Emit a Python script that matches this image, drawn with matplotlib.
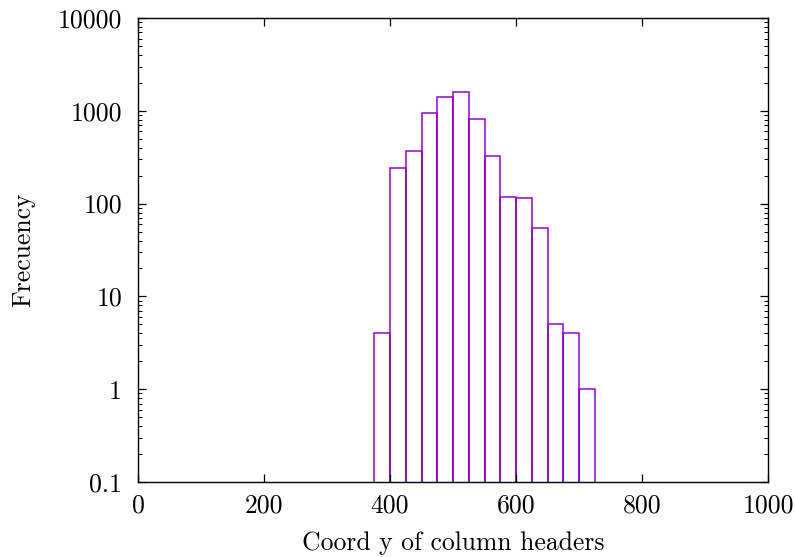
import matplotlib
matplotlib.use("Agg")
import matplotlib.pyplot as plt
from matplotlib.ticker import FixedLocator, FixedFormatter, LogLocator, NullFormatter

plt.rcParams['font.family'] = 'serif'
plt.rcParams['font.serif'] = ['cmr10', 'DejaVu Serif']
plt.rcParams['axes.formatter.use_mathtext'] = True

bin_left = [375, 400, 425, 450, 475, 500, 525, 550, 575, 600, 625, 650, 675, 700]
counts = [4, 242, 369, 954, 1419, 1607, 810, 326, 119, 114, 54, 5, 4, 1]
bin_width = 25

x_ticks = [0, 200, 400, 600, 800, 1000]
y_ticks = [0.1, 1, 10, 100, 1000, 10000]
y_tick_labels = ['0.1', '1', '10', '100', '1000', '10000']

fig = plt.figure(figsize=(7.95, 5.57), dpi=100)
ax = fig.add_axes([138/795, 1-482/557, (768-138)/795, (482-18)/557])

ax.bar(bin_left, counts, width=bin_width, align='edge', bottom=0.01,
       fill=False, edgecolor='#9400D3', linewidth=1.1)

ax.set_yscale('log')
ax.set_xlim(0, 1000)
ax.set_ylim(0.1, 10000)

ax.xaxis.set_major_locator(FixedLocator(x_ticks))
ax.xaxis.set_major_formatter(FixedFormatter([str(v) for v in x_ticks]))
ax.yaxis.set_major_locator(FixedLocator(y_ticks))
ax.yaxis.set_major_formatter(FixedFormatter(y_tick_labels))
ax.yaxis.set_minor_locator(LogLocator(base=10, subs=range(2, 10)))
ax.yaxis.set_minor_formatter(NullFormatter())

ax.tick_params(axis='both', which='major', direction='in', length=6, width=0.9,
               top=True, right=True, labelsize=18.5, colors='black')
ax.tick_params(axis='x', which='major', pad=8.5)
ax.tick_params(axis='y', which='major', pad=11.5)
ax.tick_params(axis='both', which='minor', direction='in', length=3.2, width=0.7,
               top=True, right=True)
for s in ax.spines.values():
    s.set_linewidth(1.0)

ax.set_xlabel('Coord y of column headers', fontsize=18.5, labelpad=10)
ax.set_ylabel('Frecuency', fontsize=18.5, labelpad=16)

fig.savefig('out.png', dpi=100)
